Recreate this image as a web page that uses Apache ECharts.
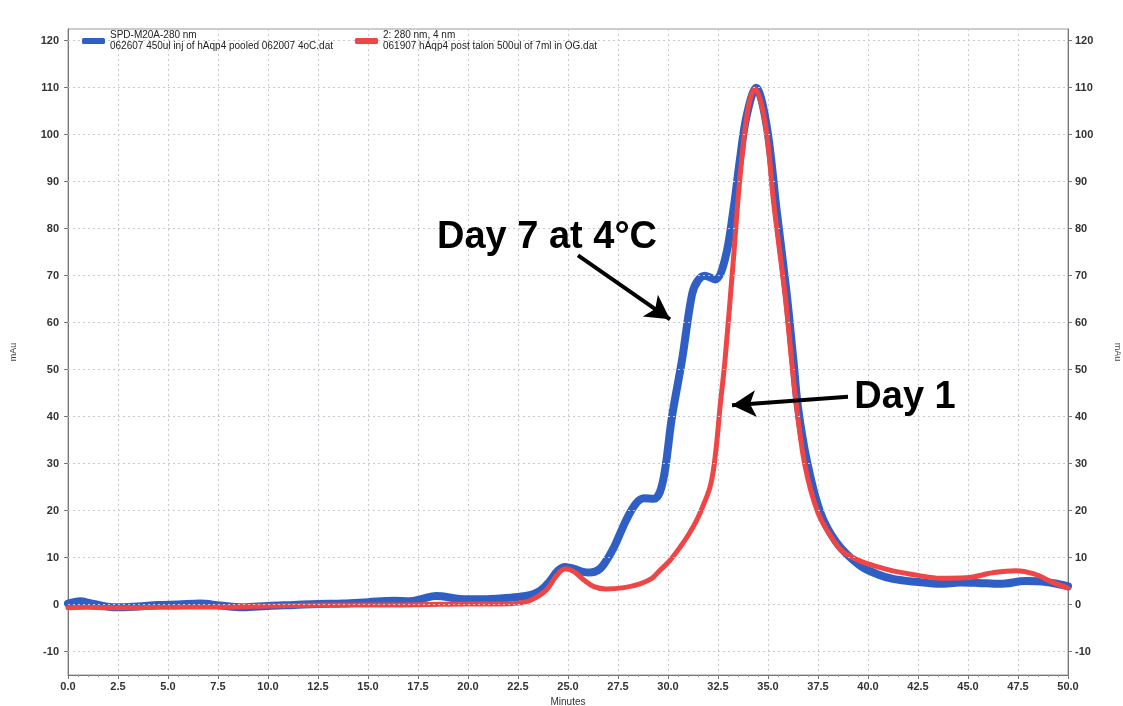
<!DOCTYPE html>
<html><head><meta charset="utf-8">
<script src="https://cdn.jsdelivr.net/npm/echarts@6/dist/echarts.min.js"></script>
<style>html,body{margin:0;padding:0;background:#fff}#c{width:1123px;height:706px}</style>
</head><body><div id="c"></div>
<script>
const seriesNames = ['SPD-M20A-280 nm', '2: 280 nm, 4 nm'];
const seriesFiles = ['062607 450ul inj of hAqp4 pooled 062007 4oC.dat', '061907 hAqp4 post talon 500ul of 7ml in OG.dat'];
const seriesColors = ['#2f5fc4', '#f04545'];

// Day 7 at 4°C (blue)
const minutesDay7 = [0,0.6,1.2,2.4,3.5,4.5,5.5,6.6,7.6,8.75,10,11.3,12.5,13.75,15,16.3,17.1,17.7,18.4,19.6,20.6,21.6,22.5,23.1,23.6,24,24.5,24.85,25.3,25.7,26.1,26.5,26.8,27.3,27.9,28.4,28.8,29.3,29.6,29.85,30.2,30.7,31.2,31.5,31.85,32.35,32.85,33.27,33.6,33.93,34.4,34.93,35.43,35.93,36.27,36.5,36.95,37.6,38.43,39.6,40.5,41.3,42.5,43.6,44.6,45.5,46.6,47.9,48.9,50];
const mAuDay7 = [0.2,0.7,0.2,-0.6,-0.4,-0.1,0,0.2,-0.2,-0.6,-0.3,-0.1,0.1,0.2,0.5,0.8,0.7,1.2,1.8,1.2,1.1,1.3,1.6,2.0,2.9,4.5,7.2,8.0,7.6,7.0,6.8,7.3,8.6,12.2,17.9,21.5,22.6,22.5,24,28.6,40,52,66,69,70,69.2,73.5,84,94.8,104,110,102,84,66.3,52,42,30.5,19.8,13.2,8.3,6.4,5.4,4.8,4.4,4.7,4.6,4.4,5.0,4.8,3.9];

// Day 1 (red)
const minutesDay1 = [0,1,2,3,4.5,6,8,10,11.3,13,16.3,18,20,21.6,22.5,23.1,23.9,24.4,24.85,25.3,25.8,26.3,26.9,27.8,28.6,29.2,29.6,30.1,30.6,31.0,31.43,31.8,32.1,32.27,32.45,32.6,32.85,33.27,33.6,34.0,34.35,34.7,35.0,35.27,35.85,36.18,36.35,36.83,37.5,38.3,38.77,39.6,40.5,41.3,42.5,43.6,44.9,46.3,47.4,48.3,49.3,50];
const mAuDay1 = [-0.7,-0.6,-0.7,-0.7,-0.6,-0.5,-0.5,-0.3,-0.2,-0.1,-0.1,0,0.1,0.1,0.3,0.85,3.0,6.0,7.6,7.0,5.2,3.8,3.3,3.6,4.4,5.6,7.3,9.4,12.2,14.7,17.9,21.5,25,28.6,35,42,52,73.5,91,105.5,109.8,106,98,86,66,52,45,30,19.5,13.5,11.2,9.3,8.0,7.1,6.2,5.6,5.7,6.8,7.2,6.5,4.6,3.5];

const yTickValues = [-10,0,10,20,30,40,50,60,70,80,90,100,110,120];

const annotationTexts = ['Day 7 at 4\u00B0C', 'Day 1'];
const annotationAt = [[23.95, 78.2], [41.85, 44.0]];
const arrowFrom = [[25.5, 74.3], [39.0, 44.2]];
const arrowTo = [[30.1, 60.7], [33.2, 42.4]];

const zip = (a, b) => a.map((x, i) => [x, b[i]]);
const FONT = '"Liberation Sans", Arial, sans-serif';
const gridColor = '#c9c9d2';

const yAxisCommon = {
  type: 'value', min: -15, max: 122.5,
  axisLine: { show: true, lineStyle: { color: '#777', width: 1 } },
  axisTick: { show: true, customValues: yTickValues, length: 4, lineStyle: { color: '#777' } },
  axisLabel: { customValues: yTickValues, fontSize: 11, fontWeight: 'bold', color: '#333', fontFamily: FONT },
  splitLine: { show: false },
  name: 'mAu', nameLocation: 'middle',
  nameTextStyle: { fontSize: 9, color: '#444', fontFamily: FONT }
};

const chart = echarts.init(document.getElementById('c'), null, { renderer: 'canvas' });
chart.setOption({
  animation: false,
  backgroundColor: '#fff',
  textStyle: { fontFamily: FONT },
  grid: { left: 68, right: 55, top: 29, bottom: 31, show: true, borderColor: '#999', borderWidth: 1, containLabel: false, outerBoundsMode: 'none' },
  legend: {
    left: 77, top: 25, itemWidth: 23, itemHeight: 6, itemGap: 22, icon: 'roundRect', z: 20,
    data: seriesNames.map((n, i) => ({ name: n, itemStyle: { color: seriesColors[i], borderWidth: 0, borderColor: 'transparent', decal: 'none' } })),
    itemStyle: { borderWidth: 0, borderColor: 'transparent' },
    lineStyle: { width: 0 },
    formatter: name => name + '\n' + seriesFiles[seriesNames.indexOf(name)],
    textStyle: { fontSize: 10, lineHeight: 11, color: '#222', fontFamily: FONT },
    selectedMode: false
  },
  xAxis: {
    type: 'value', min: 0, max: 50, interval: 2.5,
    axisLine: { show: true, onZero: false, lineStyle: { color: '#777' } },
    axisTick: { show: true, length: 4, lineStyle: { color: '#777' } },
    minorTick: { show: true, splitNumber: 5, length: 2, lineStyle: { color: '#999' } },
    axisLabel: { formatter: v => v.toFixed(1), fontSize: 11, fontWeight: 'bold', color: '#333', margin: 6, fontFamily: FONT },
    splitLine: { show: true, lineStyle: { color: gridColor, type: [2, 3], width: 1 } },
    name: 'Minutes', nameLocation: 'middle', nameGap: 19,
    nameTextStyle: { fontSize: 10, color: '#333', fontFamily: FONT }
  },
  yAxis: [
    Object.assign({}, yAxisCommon, { position: 'left', nameGap: 50, nameRotate: 90, axisLabel: Object.assign({}, yAxisCommon.axisLabel, { margin: 9 }) }),
    Object.assign({}, yAxisCommon, { position: 'right', nameGap: 45, nameRotate: -90, axisLabel: Object.assign({}, yAxisCommon.axisLabel, { margin: 7 }) })
  ],
  series: [
    {
      name: 'gridlines', type: 'line', data: [], z: 1, silent: true,
      markLine: {
        silent: true, symbol: ['none', 'none'], label: { show: false },
        lineStyle: { color: gridColor, type: [2, 3], width: 1 },
        data: yTickValues.map(v => ({ yAxis: v }))
      }
    },
    {
      name: seriesNames[0], type: 'line', data: zip(minutesDay7, mAuDay7), smooth: 0.35,
      showSymbol: false, color: seriesColors[0], z: 2,
      itemStyle: { color: seriesColors[0], borderWidth: 0 },
      lineStyle: { color: seriesColors[0], width: 8, cap: 'round', join: 'round' }
    },
    {
      name: seriesNames[1], type: 'line', data: zip(minutesDay1, mAuDay1), smooth: 0.35,
      showSymbol: false, color: seriesColors[1], z: 3,
      itemStyle: { color: seriesColors[1], borderWidth: 0 },
      lineStyle: { color: seriesColors[1], width: 5, cap: 'round', join: 'round' }
    },
    {
      name: 'annotations', type: 'line', data: [], z: 10, silent: true,
      markLine: {
        silent: true, symbol: ['none', 'arrow'], symbolSize: [20, 24], label: { show: false },
        lineStyle: { color: '#000', width: 4, type: 'solid' },
        data: arrowFrom.map((p, i) => [{ coord: p }, { coord: arrowTo[i] }])
      },
      markPoint: {
        silent: true, symbol: 'circle', symbolSize: 0,
        label: { show: true, position: 'inside', fontSize: 38, fontWeight: 'bold', color: '#000', fontFamily: FONT },
        data: annotationAt.map((p, i) => ({ coord: p, value: annotationTexts[i], label: { formatter: annotationTexts[i] } }))
      }
    }
  ]
});
</script></body></html>
